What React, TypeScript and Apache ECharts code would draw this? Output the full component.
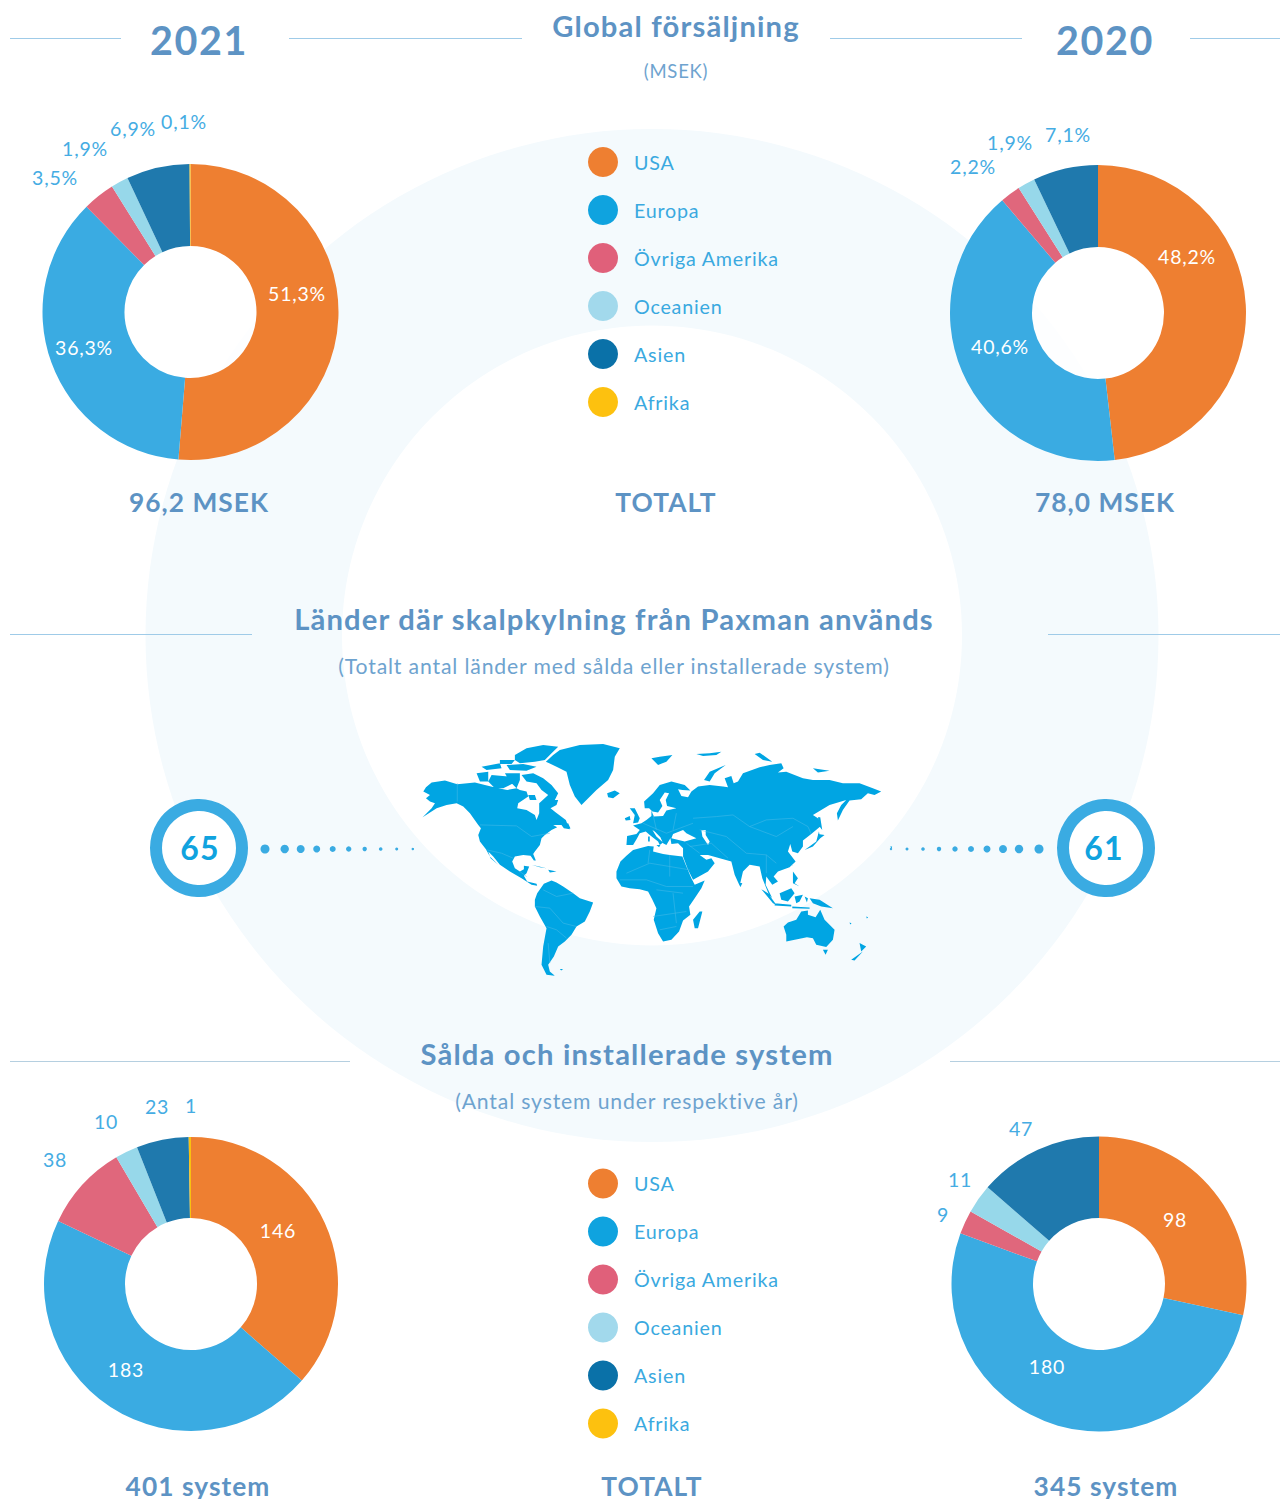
import React, { useEffect, useRef } from "react";
import * as echarts from "echarts";

const categories = ["USA", "Europa", "Övriga Amerika", "Oceanien", "Asien", "Afrika"];
const sales2021 = [51.3, 36.3, 3.5, 1.9, 6.9, 0.1];
const sales2020 = [48.2, 40.6, 2.2, 1.9, 7.1, 0];
const systems2021 = [146, 183, 38, 10, 23, 1];
const systems2020 = [98, 180, 9, 11, 47, 0];
const pieColors = ["#ee7f31", "#3aabe2", "#e0677c", "#97d8ea", "#1f79ad", "#f9c010"];
const legendColors = ["#ee7f31", "#0fa3df", "#e0607a", "#a2d9ec", "#0a71a8", "#fdc10f"];

// label centres for each pie, per category
const labelsS21 = [[297, 293.5], [84, 347.5], [55, 177], [85, 148], [133, 128], [184, 121]];
const labelsS20 = [[1187, 256], [1000, 346.5], [973, 166], [1010, 142], [1068, 134], [0, 0]];
const labelsN21 = [[278, 1230.5], [126, 1369.5], [55, 1159.5], [106, 1121.5], [157, 1106.5], [191, 1105.5]];
const labelsN20 = [[1175, 1219.5], [1047, 1366.5], [943, 1214.5], [960, 1179.5], [1021, 1128.5], [0, 0]];

const dotXLeft = [265, 284.7, 300.7, 316.7, 332.7, 348.7, 364.7, 380.7, 396.7, 412.7];
const dotXRight = [1039, 1019, 1003, 987, 971, 955, 939, 923, 907, 891];
const dotR = [4.5, 4.2, 4, 3.5, 3, 2.7, 2.2, 1.8, 1.5, 1.2];

// World silhouette, traced as polygons (3x zoom space; placed with scale 1/3)
const land: number[][] = [
  // North America
  [70,185,78,172,95,158,135,152,172,163,225,158,255,165,295,175,322,180,350,175,360,180,380,185,385,200,355,220,352,235,380,240,405,255,410,270,418,250,418,220,445,195,460,205,475,210,470,225,452,235,468,248,498,270,505,288,510,298,492,295,485,285,460,285,472,292,455,300,435,315,425,325,420,345,405,365,400,372,408,392,402,392,392,378,370,375,345,380,337,395,345,415,360,425,372,418,372,408,388,410,380,430,372,438,382,455,410,462,412,468,395,465,365,445,330,425,300,405,280,380,265,365,272,385,295,405,270,380,258,358,240,335,235,315,243,295,235,285,210,250,190,230,170,220,140,225,110,235,68,262,95,235,105,220,90,215,78,205,90,195],
  // Newfoundland
  [490,285,505,280,512,296,495,295],
  // Arctic archipelago
  [365,135,400,130,430,145,455,165,475,190,465,210,445,195,425,180,410,160,380,155],
  [345,75,380,55,430,45,475,50,455,70,435,90,405,95,360,100,345,90],
  [320,105,370,102,410,110,380,122,330,120],
  [300,90,345,90,335,102,300,102],
  [245,110,300,100,305,115,260,120],
  [230,130,265,125,265,155,240,155],
  [265,155,275,135,325,140,340,160,310,175,285,175],
  [315,130,360,130,360,150,350,175,330,155],
  [385,195,405,195,410,210,390,210],
  // Greenland, Iceland, Svalbard etc.
  [438,95,460,75,480,60,540,45,610,42,660,55,645,80,640,120,625,150,590,180,560,210,545,225,525,200,510,165,500,125,470,110],
  [622,190,645,182,660,190,640,205,625,202],
  [755,85,780,80,818,75,800,95,775,105],
  [890,72,930,70,965,65,950,75,910,78],
  [913,150,930,125,978,105,945,130,930,155],
  [1065,72,1080,68,1118,95,1090,90],
  [1240,115,1290,122,1255,128],
  // Eurasia
  [680,345,682,318,710,312,720,300,700,287,725,280,740,270,755,258,755,242,762,260,790,258,800,242,830,235,802,228,798,210,808,190,795,188,780,210,788,228,775,248,758,245,748,235,735,235,733,215,760,190,780,165,815,155,855,165,872,182,848,180,835,178,845,198,865,202,875,185,895,170,930,165,970,170,985,172,975,145,995,138,1002,160,1015,155,1030,130,1080,112,1110,105,1145,100,1152,115,1135,128,1160,125,1210,145,1240,150,1290,150,1330,160,1380,160,1420,175,1445,185,1425,195,1405,190,1385,208,1350,212,1330,240,1315,272,1312,250,1325,225,1340,210,1290,225,1240,255,1255,265,1262,290,1235,312,1210,332,1210,350,1195,370,1178,365,1172,342,1165,365,1188,395,1170,412,1135,425,1122,440,1135,455,1118,465,1100,440,1098,465,1118,505,1108,495,1088,445,1080,410,1050,405,1030,425,1020,468,1005,435,995,395,960,385,925,375,900,375,920,390,935,385,945,400,925,425,880,450,865,420,850,380,850,355,835,340,815,342,812,325,800,345,790,340,782,322,765,305,758,300,770,320,790,338,780,345,775,335,750,315,738,305,720,310,712,325,700,345],
  // Black Sea and Caspian (opposite winding, cut out)
  [815,325,855,335,890,325,860,310,850,300,820,312],
  [905,300,908,320,925,345,930,335,918,315,918,300],
  // British Isles, Mediterranean islands
  [675,265,690,258,692,270,678,272],
  [690,235,705,235,720,265,715,278,700,280,705,255],
  [770,345,782,345,778,352],
  [745,320,750,320,750,335,745,335],
  // Japan, Sakhalin, Taiwan
  [1255,262,1262,262,1268,300,1260,290],
  [1215,360,1250,335,1258,305,1262,325,1240,350],
  [1255,312,1275,315,1262,325],
  [1175,395,1182,395,1178,408],
  // South-east Asia
  [1085,478,1105,490,1130,525,1120,520],
  [1125,520,1175,525,1175,530,1125,527],
  [1140,490,1175,475,1185,490,1165,515,1145,510],
  [1185,500,1210,495,1200,515,1190,520],
  [1230,505,1260,510,1300,535,1265,530,1240,520],
  [1180,425,1195,445,1185,460,1200,470,1180,460],
  [1178,530,1230,533,1230,537,1178,535],
  [1215,500,1225,505,1222,518],
  [1018,458,1028,460,1022,472],
  // Caribbean
  [395,405,440,415,420,412],
  [445,420,470,425,450,428],
  // Africa
  [650,425,662,395,680,378,700,360,745,348,762,350,760,365,790,372,810,375,848,380,860,410,875,445,885,465,915,452,905,475,885,505,868,530,872,555,850,572,838,605,815,630,790,635,775,610,762,570,770,535,758,510,745,485,720,478,690,475,665,470,650,445],
  [900,545,908,545,895,595,885,595,880,570],
  // South America
  [405,510,412,490,432,462,455,452,470,458,490,470,520,490,540,505,580,518,570,545,555,575,530,590,515,615,495,635,475,650,462,680,445,705,450,725,465,738,440,735,425,705,430,650,440,595,420,560,405,530],
  // Oceania
  [1152,590,1165,578,1190,570,1205,545,1225,542,1225,555,1248,562,1262,540,1275,570,1305,600,1300,630,1280,652,1250,645,1240,625,1222,622,1160,635,1160,615],
  [1270,660,1285,660,1278,675],
  [1380,640,1400,650,1385,665],
  [1355,690,1390,665,1365,692],
  // Specks
  [36,355,42,355,40,361],
  [1472,350,1478,350,1476,356],
  [480,718,490,718,484,722],
  [1350,578,1356,580,1352,584],
  [1400,560,1406,562,1402,566],
];
const borders: number[][] = [
  [172,160,172,215],[240,285,350,288,395,320,450,310],[260,360,305,370,340,385],
  [360,425,380,440],[430,480,470,500,520,490],[405,530,450,535,490,580,530,590],[440,590,470,600,500,625],[445,640,450,700],
  [680,430,750,400,810,410,870,420],[750,360,745,400],[810,375,810,440],[660,450,740,450,800,470,880,470],[770,480,850,490],[760,560,860,545],[780,600,830,590],[820,490,830,580],
  [730,280,800,310,880,280],[760,255,770,300],[830,250,820,300],[880,265,950,260,1000,255,1050,290,1100,270,1180,265,1225,290,1235,312],
  [1050,290,1130,320,1180,290],[980,320,1040,370,1100,375,1130,400],[900,300,980,320],[870,350,935,340,985,385],[1100,375,1100,430],[860,340,900,370],
];
const pathOf = (rings: number[][], close: boolean) =>
  rings.map((r) => {
    let d = "M" + r[0] + " " + r[1];
    for (let i = 2; i < r.length; i += 2) d += "L" + r[i] + " " + r[i + 1];
    return d + (close ? "Z" : "");
  }).join("");

echarts.graphic.registerShape("worldLand", echarts.graphic.extendPath(pathOf(land, true), {}));
echarts.graphic.registerShape("worldBorders", echarts.graphic.extendPath(pathOf(borders, false), {}));

const FONT = "Lato";
const TITLE = "#5d93c4";
const SUB = "#6ea3cf";
const LEGEND = "#3aa9e0";
const RULE = "#9fcbe8";

const txt = (text: string, x: number, y: number, size: number, fill: string, weight: number | string = 400, align = "center") => ({
  type: "text", x, y: y - 2, z: 1,
  style: { text, fill, font: `${weight} ${size}px ${FONT}`, align, verticalAlign: "middle" },
});
const rule = (x1: number, x2: number, y: number, stroke = RULE) => ({
  type: "line", z: 1, shape: { x1, y1: y + 0.5, x2, y2: y + 0.5 }, style: { stroke, lineWidth: 1 },
});

const pie = (vals: number[], c: number[], r: number, pos: number[][], fmt: (v: number) => string) => ({
  type: "pie", center: c, radius: [66, r], z: 3, avoidLabelOverlap: false, silent: true,
  labelLine: { show: false },
  labelLayout: (p: any) => ({ x: pos[p.dataIndex][0], y: pos[p.dataIndex][1], align: "center", verticalAlign: "middle" }),
  data: categories.map((name, i) => ({
    name, value: vals[i],
    itemStyle: { color: pieColors[i] },
    label: {
      show: vals[i] > 0, position: i < 2 ? "inside" : "outside",
      formatter: () => fmt(vals[i]),
      color: i < 2 ? "#ffffff" : "#45ace3", fontFamily: FONT, fontSize: 19.5,
    },
  })),
});
const pct = (v: number) => v.toFixed(1).replace(".", ",") + "%";
const num = (v: number) => String(v);

const legend = (top: number) => ({
  orient: "vertical", left: 588, top, padding: 0, icon: "circle", itemWidth: 30, itemHeight: 30, itemGap: 18, selectedMode: false,
  textStyle: { color: LEGEND, fontFamily: FONT, fontSize: 19.7, padding: [0, 0, 0, 11] },
  data: categories.map((name, i) => ({ name, itemStyle: { color: legendColors[i] } })),
});

export default function App() {
  const ref = useRef<HTMLDivElement>(null);
  useEffect(() => {
    const chart = echarts.init(ref.current!, undefined, { renderer: "svg" });
    const dots = (xs: number[]) => xs.map((x, i) => ({
      type: "circle", z: 1, shape: { cx: x, cy: 849, r: dotR[i] }, style: { fill: "#3aabe2" },
    }));
    chart.setOption({
      animation: false,
      legend: [legend(147), legend(1168.6)],
      series: [
        pie(sales2021, [190.5, 312], 148, labelsS21, pct),
        pie(sales2020, [1098, 313], 148, labelsS20, pct),
        pie(systems2021, [191, 1284], 147, labelsN21, num),
        pie(systems2020, [1099, 1284], 147.5, labelsN20, num),
      ],
      graphic: [
        { type: "ring", z: 0, shape: { cx: 652, cy: 635.5, r: 506.5, r0: 310 }, style: { fill: "#f4fafd" } },
        { type: "circle", z: 0, shape: { cx: 190.5, cy: 312, r: 68 }, style: { fill: "#ffffff", opacity: 0.8 } },
        { type: "circle", z: 0, shape: { cx: 1098, cy: 313, r: 68 }, style: { fill: "#ffffff", opacity: 0.8 } },
        rule(10, 121, 38), rule(289, 522, 38), rule(830, 1022, 38), rule(1190, 1280, 38),
        rule(10, 252, 634), rule(1048, 1280, 634),
        rule(10, 350, 1061, "#b5cfe0"), rule(950, 1280, 1061, "#b5cfe0"),
        txt("2021", 199, 41.5, 39.5, TITLE, 700),
        txt("2020", 1105, 41.5, 39.5, TITLE, 700),
        txt("Global försäljning", 676, 27, 29.2, TITLE, 700),
        txt("(MSEK)", 676, 73, 18.5, SUB),
        txt("96,2 MSEK", 199, 503.5, 26.3, TITLE, 700),
        txt("TOTALT", 666, 503.5, 26.3, TITLE, 700),
        txt("78,0 MSEK", 1105, 503.5, 26.3, TITLE, 700),
        txt("Länder där skalpkylning från Paxman används", 614, 620, 29.2, TITLE, 700),
        txt("(Totalt antal länder med sålda eller installerade system)", 614, 667.5, 21.2, SUB),
        txt("Sålda och installerade system", 627, 1055, 29.2, TITLE, 700),
        txt("(Antal system under respektive år)", 627, 1102.5, 21.2, SUB),
        txt("401 system", 198, 1488, 26.3, TITLE, 700),
        txt("TOTALT", 652, 1488, 26.3, TITLE, 700),
        txt("345 system", 1106, 1488, 26.3, TITLE, 700),
        { type: "worldLand", z: 1, x: 400, y: 730, scaleX: 1 / 3, scaleY: 1 / 3, style: { fill: "#00a5e3" } },
        { type: "worldBorders", z: 1, x: 400, y: 730, scaleX: 1 / 3, scaleY: 1 / 3, style: { fill: "none", stroke: "#4dbce9", lineWidth: 1.5 } },
        { type: "circle", z: 1, shape: { cx: 199, cy: 848, r: 43 }, style: { fill: "#ffffff", stroke: "#3aabe2", lineWidth: 12 } },
        { type: "circle", z: 1, shape: { cx: 1106, cy: 848, r: 43 }, style: { fill: "#ffffff", stroke: "#3aabe2", lineWidth: 12 } },
        txt("65", 200, 849, 32, "#10a3df", 700),
        txt("61", 1104, 849, 32, "#10a3df", 700),
        ...dots(dotXLeft),
        ...dots(dotXRight),
      ],
    });
    return () => chart.dispose();
  }, []);
  return (
    <>
      <style>{`text{letter-spacing:.04em}`}</style>
      <div ref={ref} style={{ position: "absolute", left: 0, top: 0, width: 1280, height: 1499 }} />
    </>
  );
}
